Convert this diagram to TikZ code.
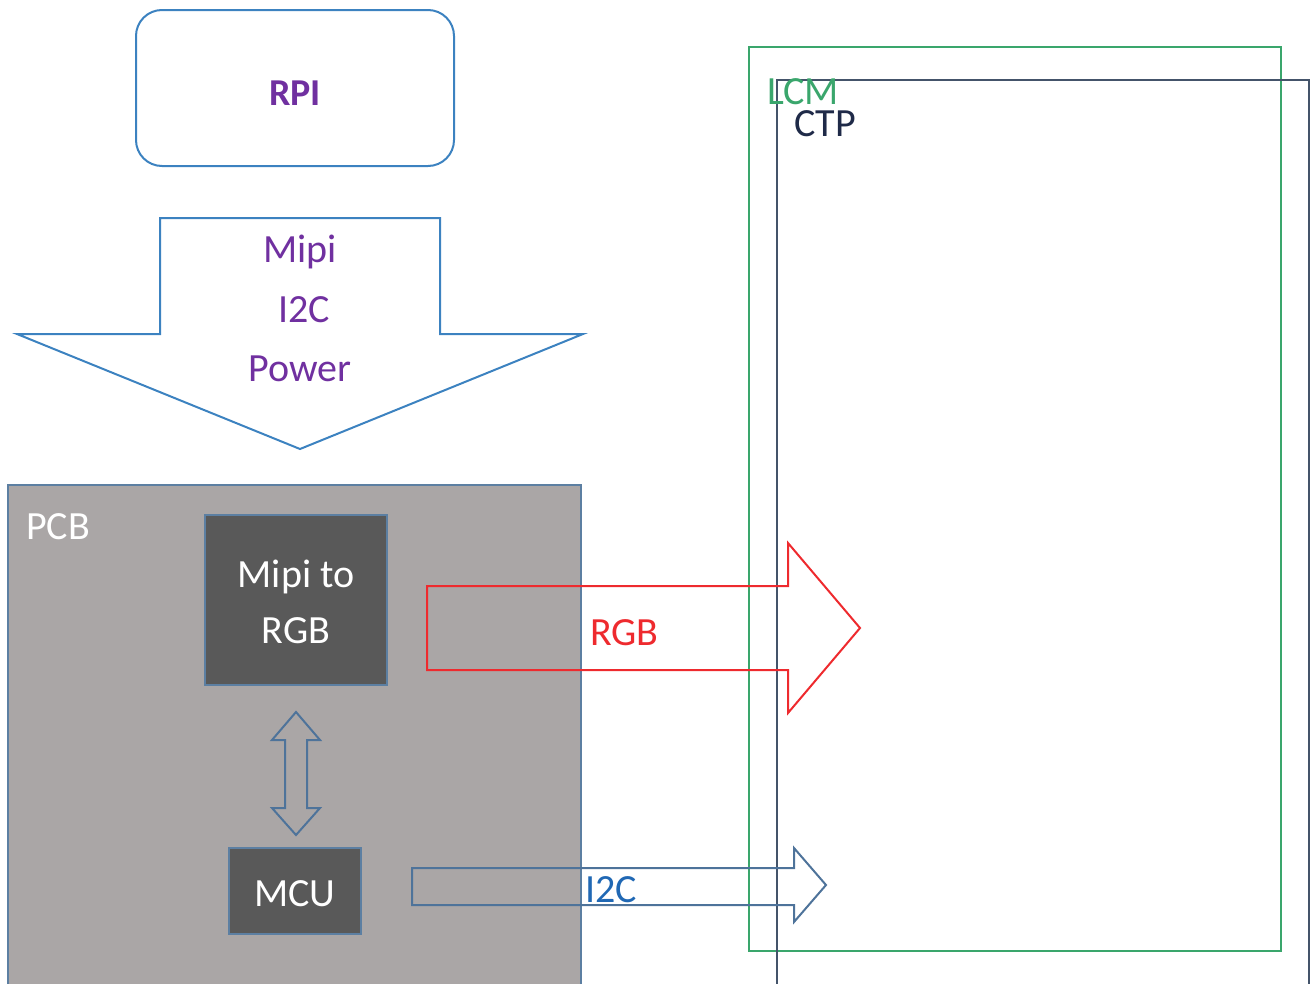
\documentclass[tikz,border=0pt]{standalone}
\usepackage{fontspec}
\setmainfont{Carlito}
\definecolor{rpiblue}{HTML}{3C82C0}
\definecolor{purp}{HTML}{7030A0}
\definecolor{pcbgray}{HTML}{AAA6A6}
\definecolor{pcbline}{HTML}{5C7FA2}
\definecolor{chip}{HTML}{595959}
\definecolor{slate}{HTML}{4E739A}
\definecolor{rgbred}{HTML}{EE2A2E}
\definecolor{i2cblue}{HTML}{2068B4}
\definecolor{lcmgreen}{HTML}{3AA66C}
\definecolor{ctpline}{HTML}{44546A}
\definecolor{ctptext}{HTML}{1F2A48}
\tikzset{
  txt/.style={font=\fontsize{40}{56}\selectfont, inner sep=0pt, anchor=base},
  chipbox/.style={draw=pcbline, fill=chip, line width=2pt},
  blockarrow/.style={line width=2pt, line join=miter},
}
\begin{document}
\begin{tikzpicture}[x=1pt,y=-1pt]
\useasboundingbox (0,0) rectangle (1316,983);
\clip (0,0) rectangle (1316,983);
% RPI
\draw[rpiblue, line width=2pt, rounded corners=26pt] (136,10) rectangle (454,166);
\node[coordinate] (rpi) at (295,48) {};
\node[txt, font=\fontsize{38}{46}\selectfont\bfseries, text=purp] (rpitext) at (295,105) {RPI};
% down arrow
\draw[blockarrow, rpiblue] (160,218) -- (440,218) -- (440,334) -- (583,334) -- (300,449) -- (17,334) -- (160,334) -- cycle;
\node[txt, text=purp] (mipi) at (300,262) {Mipi};
\node[txt, text=purp] (i2ca) at (304,322) {I2C};
\node[txt, text=purp] (power) at (300,381) {Power};
% PCB
\draw[fill=pcbgray, draw=pcbline, line width=1.5pt] (8,485) rectangle (581,990);
\node[txt, anchor=base west, text=white] (pcb) at (26,539) {PCB};
\draw[chipbox] (205,515) rectangle (387,685);
\node[txt, text=white] (m2r1) at (296,587) {Mipi to};
\node[txt, text=white] (m2r2) at (296,643) {RGB};
\draw[chipbox] (229,848) rectangle (361,934);
\node[txt, text=white] (mcu) at (295,906) {MCU};
% double arrow
\draw[blockarrow, slate] (296,712) -- (320,740) -- (307,740) -- (307,808) -- (320,808) -- (296,835) -- (272,808) -- (285,808) -- (285,740) -- (272,740) -- cycle;
% LCM and CTP
\draw[lcmgreen, line width=2pt] (749,47) rectangle (1281,951);
\draw[ctpline, line width=2pt] (777,80) rectangle (1309,1000);
\node[txt, anchor=base west, text=lcmgreen] (lcm) at (767,104) {LCM};
\node[txt, anchor=base west, text=ctptext] (ctp) at (794,136) {CTP};
% RGB arrow
\draw[blockarrow, rgbred] (427,586) -- (788,586) -- (788,543) -- (860,628) -- (788,713) -- (788,670) -- (427,670) -- cycle;
\node[txt, anchor=base west, text=rgbred] (rgb) at (590,645) {RGB};
% I2C arrow
\draw[blockarrow, slate] (412,868) -- (794,868) -- (794,848) -- (826,885) -- (794,922) -- (794,905) -- (412,905) -- cycle;
\node[txt, anchor=base west, text=i2cblue] (i2cb) at (585,902) {I2C};
\end{tikzpicture}
\end{document}
